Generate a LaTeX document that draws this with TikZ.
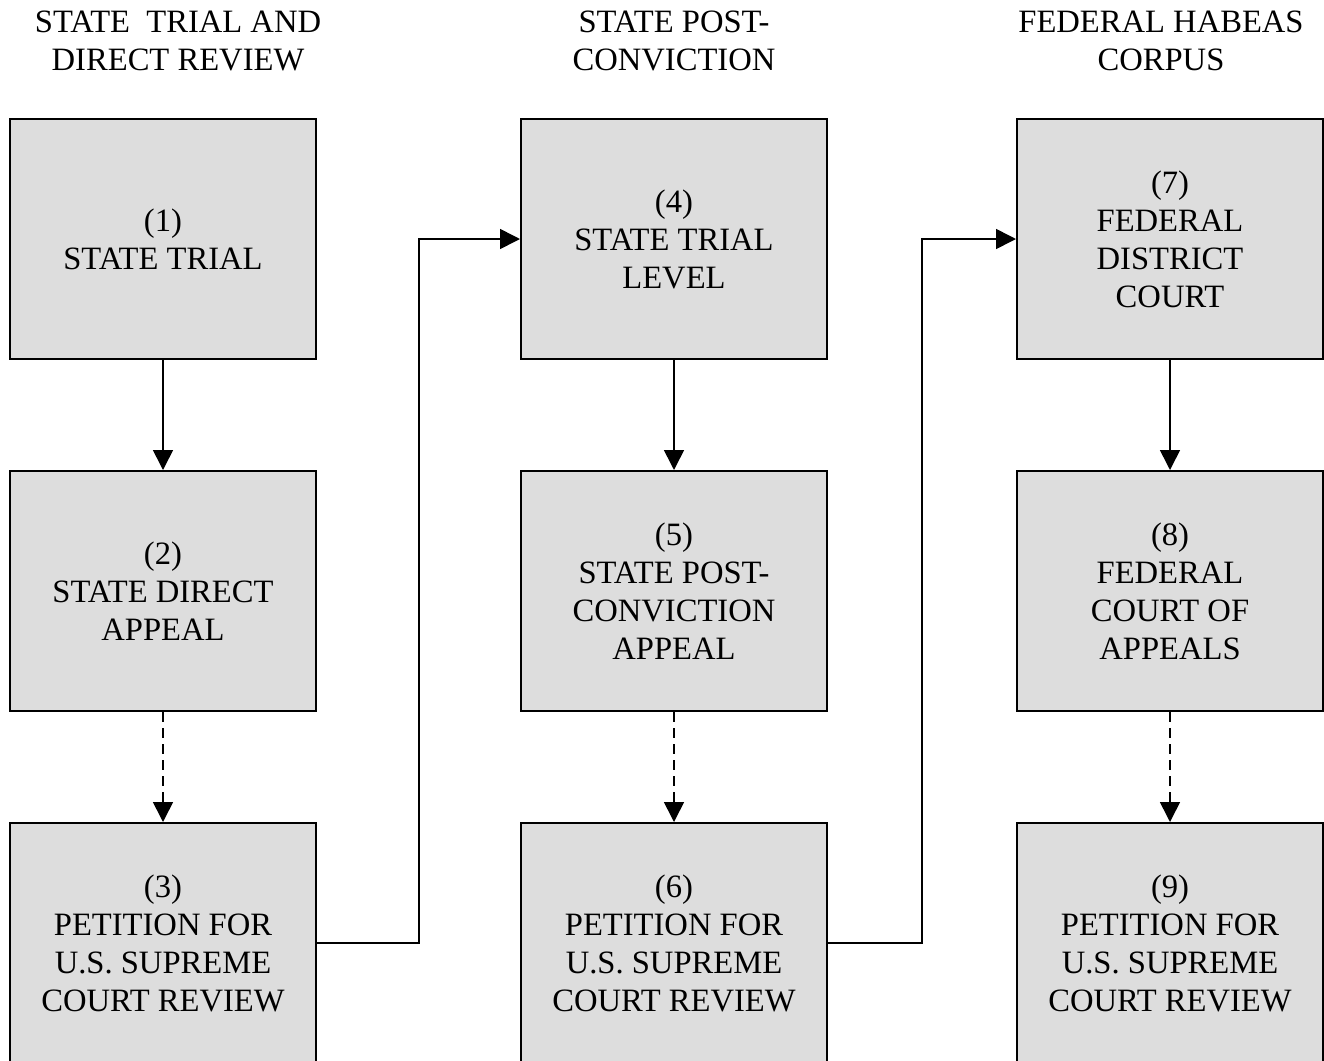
\documentclass[tikz,border=0pt]{standalone}
\usepackage{fontspec}
\setmainfont{Liberation Serif}
\usetikzlibrary{arrows.meta, positioning}
\definecolor{boxfill}{HTML}{DDDDDD}
\definecolor{ink}    {HTML}{000000}

\begin{document}
\begin{tikzpicture}[
  x=0.5pt, y=-0.5pt,
  court/.style={draw=ink, fill=boxfill, line width=1pt, minimum width=153pt,
                minimum height=120pt, inner sep=0pt, align=center,
                font=\fontsize{16.3}{19}\selectfont},
  head/.style ={align=center, font=\fontsize{16.3}{19}\selectfont},
  flow/.style ={-{Triangle[length=10pt, width=10pt]}, draw=ink, line width=0.8pt},
  maybe/.style={flow, dash pattern=on 5pt off 3pt},
]
  \useasboundingbox (0,0) rectangle (1324,1061);

  % --- column headings --------------------------------------------
  \node[head] (h1) at (178,40.5)  {STATE\ \ TRIAL AND\\DIRECT REVIEW};
  \node[head] (h2) at (674,40.5)  {STATE POST-\\CONVICTION};
  \node[head] (h3) at (1161,40.5) {FEDERAL HABEAS\\CORPUS};

  % --- state trial and direct review ------------------------------
  \node[court] (s1) at (163,239) {(1)\\STATE TRIAL};
  \node[court] (s2) at (163,591) {(2)\\STATE DIRECT\\APPEAL};
  \node[court] (s3) at (163,943) {(3)\\PETITION FOR\\U.S. SUPREME\\COURT REVIEW};

  % --- state post-conviction --------------------------------------
  \node[court] (s4) at (674,239) {(4)\\STATE TRIAL\\LEVEL};
  \node[court] (s5) at (674,591) {(5)\\STATE POST-\\CONVICTION\\APPEAL};
  \node[court] (s6) at (674,943) {(6)\\PETITION FOR\\U.S. SUPREME\\COURT REVIEW};

  % --- federal habeas corpus --------------------------------------
  \node[court] (s7) at (1170,239) {(7)\\FEDERAL\\DISTRICT\\COURT};
  \node[court] (s8) at (1170,591) {(8)\\FEDERAL\\COURT OF\\APPEALS};
  \node[court] (s9) at (1170,943) {(9)\\PETITION FOR\\U.S. SUPREME\\COURT REVIEW};

  % --- within each column: solid, then dashed ---------------------
  \foreach \a/\b/\c in {s1/s2/s3, s4/s5/s6, s7/s8/s9} {
    \draw[flow]  (\a) -- (\b);
    \draw[maybe] (\b) -- (\c);
  }

  % --- from one column to the next --------------------------------
  \draw[flow] (s3.east) -- ++(102,0) |- (s4.west);
  \draw[flow] (s6.east) -- ++(94,0)  |- (s7.west);
\end{tikzpicture}
\end{document}
